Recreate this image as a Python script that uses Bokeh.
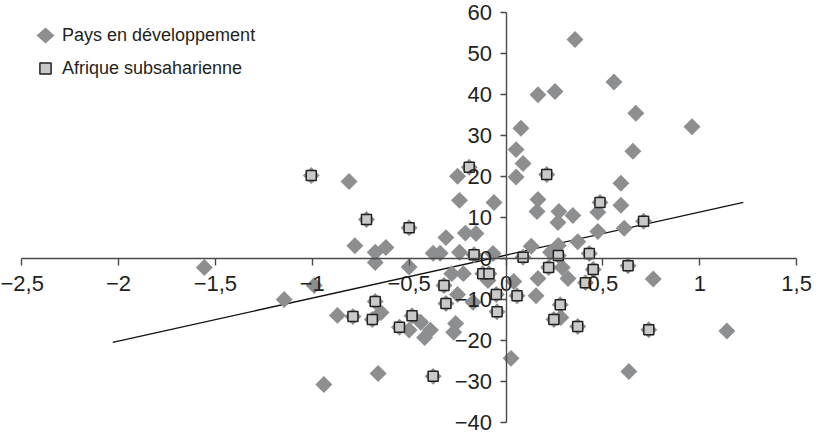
import numpy as np
from bokeh.plotting import figure
from bokeh.models import FixedTicker, Range1d, Legend, LegendItem, PolyAnnotation
from bokeh.embed import file_html
from bokeh.resources import INLINE

# Developing countries (diamonds) - non-SSA points
dev_x = [0.356, 0.557, 0.165, 0.253, 0.67, 0.96, 0.077, 0.052, 0.088, 0.655,
         0.052, -0.25, -0.81, -0.78, -0.675, -0.62, -0.675, -0.5, -0.376, -0.34,
         -0.31, -0.24, -0.24, -0.21, -0.155, -0.062, -0.067, -0.28, -0.22, -0.25,
         -0.17, -0.093, -0.99, -1.145, -0.87, -0.645, -0.44, -0.39, -0.42, -0.5,
         -0.26, -0.27, 0.026, -0.66, -0.94, -1.557, 0.165, 0.16, 0.273, 0.268,
         0.345, 0.474, 0.593, 0.593, 0.474, 0.61, 0.37, 0.13, 0.27, 0.23,
         0.29, 0.165, 0.32, 0.76, 0.04, 0.155, 0.283, 1.14, 0.634]
dev_y = [53.5, 43.1, 40.0, 40.8, 35.5, 32.2, 31.8, 26.6, 23.2, 26.2,
         19.9, 20.1, 18.8, 3.1, 1.5, 2.7, -1.0, -2.1, 1.3, 1.3,
         5.1, 14.2, 1.5, 6.2, 6.1, 13.7, 1.2, -3.7, -3.7, -8.8,
         -10.7, -5.4, -6.6, -10.0, -13.9, -13.2, -15.6, -17.5, -19.3, -17.5,
         -15.9, -18.0, -24.4, -28.1, -30.8, -2.2, 14.4, 11.5, 11.5, 8.8,
         10.5, 11.3, 18.4, 13.0, 6.6, 7.4, 4.1, 3.0, 3.2, 1.5,
         -2.2, -4.9, -4.9, -5.0, -5.6, -9.1, -14.4, -17.7, -27.6]

# Sub-Saharan Africa (squares)
ssa_x = [-1.005, -0.72, -0.5, -0.19, 0.21, -0.165, 0.088, -0.12, -0.088, -0.32,
         -0.31, -0.05, -0.046, 0.057, -0.675, -0.79, -0.69, -0.485, -0.55, -0.376,
         0.485, 0.71, 0.27, 0.43, 0.22, 0.45, 0.63, 0.41, 0.28, 0.247,
         0.37, 0.737]
ssa_y = [20.3, 9.5, 7.5, 22.3, 20.5, 0.9, 0.3, -3.7, -3.7, -6.6,
         -11.0, -8.8, -13.0, -9.1, -10.5, -14.2, -14.9, -14.0, -16.8, -28.8,
         13.7, 9.1, 0.7, 1.2, -2.2, -2.7, -1.8, -5.9, -11.3, -14.9,
         -16.6, -17.4]

# Trend line
trend_x = [-2.03, 1.225]
trend_y = [-20.5, 13.7]

x_ticks = [-2.5, -2, -1.5, -1, -0.5, 0, 0.5, 1, 1.5]
x_labels = ["\u22122,5", "\u22122", "\u22121,5", "\u22121", "\u22120,5", "0", "0,5", "1", "1,5"]
y_ticks = [-40, -30, -20, -10, 0, 10, 20, 30, 40, 50, 60]
y_labels = ["\u221240", "\u221230", "\u221220", "\u221210", "0", "10", "20", "30", "40", "50", "60"]

series_names = ["Pays en d\u00e9veloppement", "Afrique subsaharienne"]

FONT = "Liberation Sans"
AXIS_COLOR = "#4a4a4a"
TEXT_COLOR = "#231f20"
DIAMOND_COLOR = "#8d8e90"

p = figure(width=819, height=436, output_backend="svg", toolbar_location=None,
           x_range=Range1d(-2.609, 1.618), y_range=Range1d(-43.49, 63.03),
           min_border=0, outline_line_color=None, background_fill_color="white")
p.grid.visible = False

for ax in (p.xaxis, p.yaxis):
    ax.fixed_location = 0
    ax.axis_line_color = AXIS_COLOR
    ax.axis_line_width = 1.4
    ax.major_tick_line_color = AXIS_COLOR
    ax.major_tick_line_width = 1.4
    ax.minor_tick_line_color = None
    ax.major_tick_in = 0
    ax.major_label_text_font = FONT
    ax.major_label_text_font_size = "22px"
    ax.major_label_text_color = TEXT_COLOR

p.xaxis.bounds = (-2.5, 1.5)
p.yaxis.bounds = (-40, 60)
p.xaxis.ticker = FixedTicker(ticks=x_ticks)
p.yaxis.ticker = FixedTicker(ticks=y_ticks)
p.xaxis.major_label_overrides = dict(zip(x_ticks, x_labels))
p.yaxis.major_label_overrides = dict(zip(y_ticks, y_labels))
p.xaxis.major_tick_out = 7
p.yaxis.major_tick_out = 6
p.xaxis.major_label_standoff = 11
p.yaxis.major_label_standoff = 8

# trend line
p.line(trend_x, trend_y, line_color="#111111", line_width=1.3)

all_x = dev_x + ssa_x
all_y = dev_y + ssa_y
r_dev = p.scatter(all_x, all_y, marker="square", angle=np.pi / 4, size=12,
                  fill_color=DIAMOND_COLOR, line_color=None)
r_ssa = p.scatter(ssa_x, ssa_y, marker="square", size=10,
                  fill_color="#c9c9c9", line_color="#222222", line_width=1.5)

# invisible stand-in for the legend key of the diamonds (key drawn below as a rotated shape)
r_dev_key = p.scatter([], [], marker="square", size=1, fill_alpha=0, line_alpha=0)

legend = Legend(items=[LegendItem(label=series_names[0], renderers=[r_dev_key]),
                       LegendItem(label=series_names[1], renderers=[r_ssa])],
                location=(28, 354), margin=0, padding=0, spacing=5,
                glyph_width=34, glyph_height=28, label_height=20, label_standoff=0,
                label_text_font=FONT, label_text_font_size="18px",
                label_text_color=TEXT_COLOR, border_line_color=None,
                background_fill_alpha=0)
p.add_layout(legend)

# diamond legend key (canvas pixel units)
key = PolyAnnotation(xs=[45, 54, 45, 36], ys=[27, 35, 43, 35],
                     xs_units="canvas", ys_units="canvas",
                     fill_color=DIAMOND_COLOR, fill_alpha=1.0, line_color=None)
p.add_layout(key)

open("out.html", "w").write(file_html(p, INLINE))
